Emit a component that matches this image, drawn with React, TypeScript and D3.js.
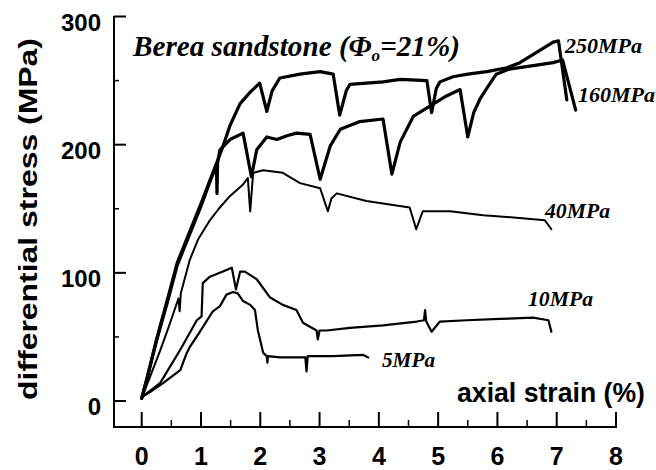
import React from "react";
import * as d3 from "d3";

// ---- data (strain %, differential stress MPa) ----
const curve250: [number, number][] = [
  [0, 2], [0.1, 20], [0.25, 48], [0.45, 82], [0.6, 108], [0.8, 131], [1.0, 154], [1.2, 178],
  [1.35, 196], [1.49, 215], [1.66, 232], [1.83, 241], [1.99, 248], [2.11, 226], [2.2, 242],
  [2.33, 252], [2.67, 255], [3.01, 257], [3.23, 255], [3.34, 223], [3.45, 242], [3.51, 247],
  [3.79, 248], [4.07, 249], [4.36, 251], [4.81, 250], [4.89, 225], [4.97, 244], [5.03, 249],
  [5.25, 253], [5.5, 255], [5.82, 257], [6.16, 260], [6.38, 264], [6.66, 272], [6.94, 280],
  [7.03, 281], [7.17, 235],
];

const curve160: [number, number][] = [
  [0, 2], [0.1, 19], [0.25, 47], [0.45, 80], [0.6, 106], [0.8, 129], [1.0, 152], [1.15, 171],
  [1.26, 184], [1.27, 162], [1.28, 186], [1.32, 196], [1.49, 204], [1.71, 209], [1.85, 175],
  [1.94, 196], [2.11, 206], [2.28, 204], [2.45, 207], [2.61, 209], [2.84, 208], [3.01, 173],
  [3.18, 199], [3.35, 212], [3.68, 218], [4.07, 220], [4.22, 177], [4.36, 202], [4.58, 222],
  [4.86, 230], [5.14, 238], [5.37, 243], [5.5, 206], [5.6, 225], [5.71, 236], [5.82, 244],
  [5.98, 255], [6.2, 259], [6.66, 262], [6.94, 264], [7.1, 266], [7.32, 227],
];

const curve40: [number, number][] = [
  [0, 2], [0.15, 20], [0.3, 38], [0.45, 57], [0.62, 80], [0.64, 70], [0.66, 84], [0.81, 110],
  [0.95, 126], [1.15, 141], [1.3, 150], [1.49, 160], [1.71, 169], [1.79, 174], [1.83, 148],
  [1.88, 178], [2.05, 180], [2.38, 178], [2.67, 170], [3.01, 166], [3.14, 148], [3.2, 158],
  [3.29, 162], [3.79, 156], [4.52, 151], [4.63, 134], [4.74, 148], [5.2, 148], [5.76, 145],
  [6.32, 143], [6.8, 141], [6.91, 134],
];

const curve10: [number, number][] = [
  [0, 3], [0.31, 14], [0.65, 40], [0.93, 63], [1.01, 66], [1.03, 92], [1.15, 97], [1.37, 101],
  [1.52, 104], [1.59, 87], [1.66, 101], [1.74, 101], [1.94, 95], [2.16, 81], [2.38, 75],
  [2.61, 71], [2.72, 61], [2.95, 55], [2.97, 48], [3.0, 55], [3.12, 55], [3.51, 57],
  [4.07, 59], [4.64, 62], [4.76, 63], [4.78, 71], [4.8, 62], [4.89, 54], [5.03, 62],
  [5.48, 63], [6.04, 64], [6.6, 65], [6.86, 63], [6.91, 54],
];

const curve5: [number, number][] = [
  [0, 3], [0.14, 7], [0.36, 14], [0.65, 24], [0.76, 37.5], [0.81, 42], [0.98, 54], [1.2, 70],
  [1.32, 74], [1.43, 83], [1.54, 85], [1.62, 84], [1.71, 78], [1.83, 75], [1.91, 71],
  [1.96, 55], [2.05, 37.5], [2.11, 35], [2.12, 30], [2.13, 35], [2.33, 34], [2.61, 34],
  [2.76, 34], [2.78, 23], [2.8, 35], [3.23, 35], [3.73, 36], [3.82, 34],
];

const xMajorTicks = [0, 1, 2, 3, 4, 5, 6, 7, 8];
const xMinorTicks = [0.5, 1.5, 2.5, 3.5, 4.5, 5.5, 6.5, 7.5];
const yMajorTicks = [0, 100, 200, 300];
const yMinorTicks = [50, 150, 250];

const seriesNames = ["250MPa", "160MPa", "40MPa", "10MPa", "5MPa"];

export default function App() {
  const W = 656;
  const H = 470;
  const x = d3.scaleLinear().domain([0, 8]).range([141.7, 616]);
  const y = d3.scaleLinear().domain([0, 300]).range([401, 16.5]);
  const line = d3
    .line<[number, number]>()
    .x((d) => x(d[0]))
    .y((d) => y(d[1]));

  const series = [
    { data: curve250, w: 3.2 },
    { data: curve160, w: 3.2 },
    { data: curve40, w: 2.0 },
    { data: curve10, w: 2.2 },
    { data: curve5, w: 2.2 },
  ];

  const axisY = 427;
  const axisX = 114;

  const labelPos = [
    { x: 565, y: 53, len: 77 },
    { x: 578, y: 101.5, len: 77 },
    { x: 545, y: 218, len: 65 },
    { x: 528, y: 306, len: 65 },
    { x: 382, y: 366.5, len: 53 },
  ];

  const sans = "'Liberation Sans', Arial, Helvetica, sans-serif";
  const serif = "'Liberation Serif', 'Times New Roman', Times, serif";

  return (
    <svg
      width={W}
      height={H}
      style={{ position: "absolute", left: 0, top: 0, background: "#fff" }}
    >
      <rect x={0} y={0} width={W} height={H} fill="#fff" />
      {/* axes */}
      <line x1={axisX} y1={16} x2={axisX} y2={axisY + 1} stroke="#000" strokeWidth={2} />
      <line x1={axisX - 1} y1={axisY} x2={617} y2={axisY} stroke="#000" strokeWidth={2} />
      {yMajorTicks.map((t) => (
        <g key={"ym" + t}>
          <line x1={axisX} y1={y(t)} x2={axisX + 12} y2={y(t)} stroke="#000" strokeWidth={2} />
          <text
            x={101}
            y={y(t) + 14}
            textAnchor="end"
            fontFamily={sans}
            fontWeight="bold"
            fontSize={24}
            fill="#000"
          >
            {t}
          </text>
        </g>
      ))}
      {yMinorTicks.map((t) => (
        <line key={"yn" + t} x1={axisX} y1={y(t)} x2={axisX + 5} y2={y(t)} stroke="#000" strokeWidth={1.5} />
      ))}
      {xMajorTicks.map((t) => (
        <g key={"xm" + t}>
          <line x1={x(t)} y1={axisY} x2={x(t)} y2={axisY - 15} stroke="#000" strokeWidth={2} />
          <text
            x={x(t)}
            y={465}
            textAnchor="middle"
            fontFamily={sans}
            fontWeight="bold"
            fontSize={25}
            fill="#000"
          >
            {t}
          </text>
        </g>
      ))}
      {xMinorTicks.map((t) => (
        <line key={"xn" + t} x1={x(t)} y1={axisY} x2={x(t)} y2={axisY - 7} stroke="#000" strokeWidth={1.5} />
      ))}

      {/* axis titles */}
      <text
        transform="translate(37,219) rotate(-90)"
        textAnchor="middle"
        fontFamily={sans}
        fontWeight="bold"
        fontSize={26}
        textLength={362}
        lengthAdjust="spacingAndGlyphs"
        fill="#000"
      >
        differential stress (MPa)
      </text>
      <text
        x={457}
        y={401.5}
        fontFamily={sans}
        fontWeight="bold"
        fontSize={27}
        textLength={188}
        lengthAdjust="spacingAndGlyphs"
        fill="#000"
      >
        axial strain (%)
      </text>

      {/* chart title */}
      <text
        x={133}
        y={56}
        fontFamily={serif}
        fontWeight="bold"
        fontStyle="italic"
        fontSize={29}
        textLength={327}
        lengthAdjust="spacingAndGlyphs"
        fill="#000"
      >
        Berea sandstone (Φ
        <tspan fontSize={17} dy={5}>o</tspan>
        <tspan dy={-5}>=21%)</tspan>
      </text>

      {/* curves */}
      {series.map((s, i) => (
        <path
          key={"c" + i}
          d={line(s.data) || ""}
          fill="none"
          stroke="#000"
          strokeWidth={s.w}
          strokeLinejoin="round"
          strokeLinecap="round"
        />
      ))}

      {/* curve labels */}
      {seriesNames.map((n, i) => (
        <text
          key={"l" + i}
          x={labelPos[i].x}
          y={labelPos[i].y}
          fontFamily={serif}
          fontWeight="bold"
          fontStyle="italic"
          fontSize={22}
          textLength={labelPos[i].len}
          lengthAdjust="spacingAndGlyphs"
          fill="#000"
        >
          {n}
        </text>
      ))}
    </svg>
  );
}
